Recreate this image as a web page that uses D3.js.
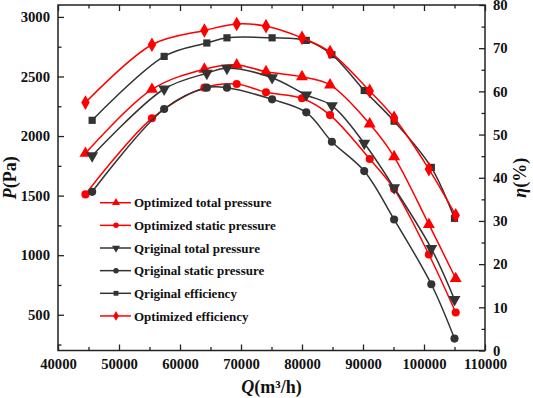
<!DOCTYPE html>
<html><head><meta charset="utf-8">
<script src="https://cdn.jsdelivr.net/npm/d3@7"></script>
<style>
html,body{margin:0;padding:0;background:#fff;}
svg{display:block;}
</style></head>
<body>
<script>
// ---- data ----
const qOptimized = [44500, 55400, 64000, 69300, 74100, 80000, 84600, 91100, 95100, 100800, 105200];
const qOriginal  = [45600, 57400, 64400, 67700, 75100, 80700, 84900, 90200, 95100, 101200, 105000];
const optTotalPressure  = [1855, 2392, 2561, 2597, 2540, 2498, 2429, 2101, 1826, 1258, 804];
const optStaticPressure = [1510, 2149, 2406, 2437, 2367, 2317, 2176, 1807, 1555, 1006, 519];
const origTotalPressure  = [1834, 2395, 2527, 2569, 2490, 2345, 2255, 1939, 1566, 1056, 628];
const origStaticPressure = [1532, 2227, 2406, 2406, 2308, 2199, 1952, 1706, 1300, 756, 300];
const origEfficiency = [53.3, 68.1, 71.2, 72.4, 72.4, 71.8, 68.5, 60.2, 53.1, 42.4, 30.6];
const optEfficiency  = [57.4, 70.8, 74.1, 75.6, 75.1, 72.4, 69.1, 60.1, 53.9, 42.0, 31.3];
const seriesNames = ["Optimized total pressure","Optimized static pressure","Qriginal total pressure","Qriginal static pressure","Qriginal efficiency","Optimized efficiency"];
const xTicks = [40000, 50000, 60000, 70000, 80000, 90000, 100000, 110000];
const pTicks = [500, 1000, 1500, 2000, 2500, 3000];
const eTicks = [0, 10, 20, 30, 40, 50, 60, 70, 80];

const W = 533, H = 398;
const L = 58, R = 485, T = 5, B = 350.5;
const RED = "#ff0000", DARK = "#333333";
const FONT = "'Liberation Serif', 'Times New Roman', 'DejaVu Serif', serif";

const svg = d3.select("body").append("svg").attr("width", W).attr("height", H)
  .attr("font-family", FONT).attr("font-weight", "bold");

const x = d3.scaleLinear().domain([40000, 110000]).range([L, R]);
const yP = d3.scaleLinear().domain([200, 3100]).range([B, T]);
const yE = d3.scaleLinear().domain([0, 80]).range([B, T]);

const fs = 14.7;
function styleAxis(g){
  g.attr("font-family", FONT).attr("font-size", null);
  g.select(".domain").remove();
  g.selectAll(".tick line").attr("stroke", "#222").attr("stroke-width", 1.3);
  g.selectAll(".tick text").style("font-family", FONT).style("font-weight", "bold")
    .style("font-size", fs + "px").attr("fill", "#111");
}
const fmt = d3.format("d");
const minorX = d3.range(45000, 110000, 10000);
const minorP = [250, 750, 1250, 1750, 2250, 2750];
const minorE = d3.range(5, 80, 10);

// bottom
svg.append("g").attr("transform", `translate(0,${B})`)
  .call(d3.axisBottom(x).tickValues(xTicks).tickFormat(fmt).tickSize(-6).tickPadding(8)).call(styleAxis);
svg.append("g").attr("transform", `translate(0,${B})`)
  .call(d3.axisBottom(x).tickValues(minorX).tickFormat("").tickSize(-3.5)).call(styleAxis);
// top
svg.append("g").attr("transform", `translate(0,${T})`)
  .call(d3.axisTop(x).tickValues(xTicks).tickFormat("").tickSize(-6)).call(styleAxis);
svg.append("g").attr("transform", `translate(0,${T})`)
  .call(d3.axisTop(x).tickValues(minorX).tickFormat("").tickSize(-3.5)).call(styleAxis);
// left
svg.append("g").attr("transform", `translate(${L},0)`)
  .call(d3.axisLeft(yP).tickValues(pTicks).tickFormat(fmt).tickSize(-6).tickPadding(8)).call(styleAxis);
svg.append("g").attr("transform", `translate(${L},0)`)
  .call(d3.axisLeft(yP).tickValues(minorP).tickFormat("").tickSize(-3.5)).call(styleAxis);
// right
svg.append("g").attr("transform", `translate(${R},0)`)
  .call(d3.axisRight(yE).tickValues(eTicks).tickFormat(fmt).tickSize(-6).tickPadding(8)).call(styleAxis);
svg.append("g").attr("transform", `translate(${R},0)`)
  .call(d3.axisRight(yE).tickValues(minorE).tickFormat("").tickSize(-3.5)).call(styleAxis);

// frame
svg.append("rect").attr("x", L).attr("y", T).attr("width", R - L).attr("height", B - T)
  .attr("fill", "none").attr("stroke", "#222").attr("stroke-width", 1.5);

// series
const series = [
  {name: seriesNames[0], q: qOptimized, v: optTotalPressure, y: yP, color: RED, sym: d3.symbolTriangle, rot: 0, size: 62},
  {name: seriesNames[1], q: qOptimized, v: optStaticPressure, y: yP, color: RED, sym: d3.symbolCircle, rot: 0, size: 52},
  {name: seriesNames[2], q: qOriginal, v: origTotalPressure, y: yP, color: DARK, sym: d3.symbolTriangle, rot: 180, size: 62},
  {name: seriesNames[3], q: qOriginal, v: origStaticPressure, y: yP, color: DARK, sym: d3.symbolCircle, rot: 0, size: 52},
  {name: seriesNames[4], q: qOriginal, v: origEfficiency, y: yE, color: DARK, sym: d3.symbolSquare, rot: 0, size: 52},
  {name: seriesNames[5], q: qOptimized, v: optEfficiency, y: yE, color: RED, sym: d3.symbolDiamond, rot: 0, size: 62}
];

const plot = svg.append("g");
series.forEach(s => {
  const pts = s.q.map((q, i) => [x(q), s.y(s.v[i])]);
  const line = d3.line().curve(d3.curveCatmullRom.alpha(0.5));
  plot.append("path").attr("d", line(pts)).attr("fill", "none")
    .attr("stroke", s.color).attr("stroke-width", 1.5);
  plot.append("g").selectAll("path").data(pts).join("path")
    .attr("d", d3.symbol().type(s.sym).size(s.size))
    .attr("transform", d => `translate(${d[0]},${d[1]}) rotate(${s.rot})`)
    .attr("fill", s.color);
});

// legend
const lg = svg.append("g");
series.forEach((s, i) => {
  const cy = 202.7 + i * 22.65;
  lg.append("line").attr("x1", 100).attr("x2", 131).attr("y1", cy).attr("y2", cy)
    .attr("stroke", s.color).attr("stroke-width", 1.5);
  lg.append("path").attr("d", d3.symbol().type(s.sym).size(s.size * 0.45))
    .attr("transform", `translate(116,${cy}) rotate(${s.rot})`).attr("fill", s.color);
  lg.append("text").attr("x", 134).attr("y", cy).attr("dy", "0.35em")
    .style("font-family", FONT).style("font-weight", "bold")
    .style("font-size", "13px").attr("fill", "#111").text(s.name);
});

// axis titles
function title(tx, ty, rot, ital, rest){
  const t = svg.append("text").attr("transform", `translate(${tx},${ty}) rotate(${rot})`)
    .attr("text-anchor", "middle").style("font-family", FONT).style("font-weight", "bold")
    .style("font-size", "18px").attr("fill", "#111");
  t.append("tspan").style("font-style", "italic").text(ital);
  t.append("tspan").text(rest);
}
title(16, (T + B) / 2, -90, "P", "(Pa)");
title(526, (T + B) / 2, -90, "η", "(%)");
title((L + R) / 2, 393, 0, "Q", "(m³/h)");
</script>
</body></html>
